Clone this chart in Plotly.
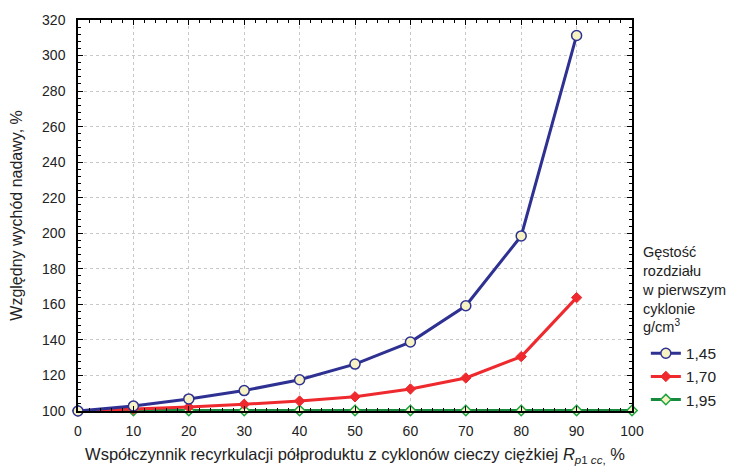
import plotly.graph_objects as go

x_main = [0, 10, 20, 30, 40, 50, 60, 70, 80, 90]
y_145 = [100, 102.8, 106.8, 111.5, 117.6, 126.4, 138.8, 159.2, 198.5, 311.3]
y_170 = [100, 101.1, 102.2, 103.8, 105.6, 108.0, 112.4, 118.6, 130.6, 163.8]
x_195 = [0, 10, 20, 30, 40, 50, 60, 70, 80, 90, 100]
y_195 = [100.3, 100.3, 100.3, 100.3, 100.3, 100.3, 100.3, 100.3, 100.3, 100.3, 100.3]

names = ["1,45", "1,70", "1,95"]
legend_title = "Gęstość<br>rozdziału<br>w pierwszym<br>cyklonie<br>g/cm<sup>3</sup>"
font = "Liberation Sans, Arial, sans-serif"

fig = go.Figure()
fig.add_trace(go.Scatter(
    x=x_195, y=y_195, name=names[2], mode="lines+markers", cliponaxis=False,
    line=dict(color="#178a3e", width=3), legendgroup="c",
    marker=dict(symbol="diamond", size=8, color="#f6f2c4", line=dict(color="#1aa33f", width=1.5)),
    legendrank=3))
fig.add_trace(go.Scatter(
    x=x_main, y=y_170, name=names[1], mode="lines+markers", cliponaxis=False,
    line=dict(color="#ee2a2e", width=3), legendgroup="b",
    marker=dict(symbol="diamond", size=8, color="#ee2a2e", line=dict(color="#ee2a2e", width=1)),
    legendrank=2))
fig.add_trace(go.Scatter(
    x=x_main, y=y_145, name=names[0], mode="lines+markers", cliponaxis=False,
    line=dict(color="#2e3192", width=3), legendgroup="a",
    marker=dict(symbol="circle", size=10, color="#f6f2c4", line=dict(color="#2e3192", width=1.5)),
    legendrank=1))

axis_common = dict(
    showline=True, linecolor="black", linewidth=1.5, mirror="ticks",
    ticks="inside", ticklen=5, tickcolor="black", tickwidth=1,
    showgrid=True, gridcolor="#c8c8c8", griddash="dot", gridwidth=1,
    zeroline=False, tickfont=dict(family=font, size=14, color="#222"),
    automargin=False,
)
fig.update_xaxes(range=[0, 100], dtick=10, tick0=0, ticklabelstandoff=6,
                 minor=dict(ticks="inside", ticklen=3, dtick=2, tickcolor="black", showgrid=False),
                 title=dict(text="Współczynnik recyrkulacji półproduktu z cyklonów cieczy ciężkiej <i>R</i><sub><i>p</i>1 <i>cc</i>,</sub> %",
                            font=dict(family=font, size=16.5, color="#222"), standoff=11),
                 **axis_common)
fig.update_yaxes(range=[100, 320], dtick=20, tick0=100, ticklabelstandoff=8,
                 minor=dict(ticks="inside", ticklen=3, dtick=4, tickcolor="black", showgrid=False),
                 title=dict(text="Względny wychód nadawy, %",
                            font=dict(family=font, size=16, color="#222"), standoff=16),
                 **axis_common)

fig.add_annotation(
    xref="paper", yref="paper", x=1.0144, y=0.312, xanchor="left", yanchor="middle",
    text=legend_title, showarrow=False, align="left",
    font=dict(family=font, size=14.5, color="#222"))

fig.update_layout(
    width=731, height=460,
    margin=dict(l=70, r=107, t=12, b=57),
    paper_bgcolor="white", plot_bgcolor="white",
    showlegend=True,
    legend=dict(
        x=1.025, xanchor="left", y=0.19, yanchor="top",
        font=dict(family=font, size=15.5, color="#222"),
        traceorder="normal", itemwidth=30, tracegroupgap=8,
        bgcolor="rgba(0,0,0,0)",
    ),
    font=dict(family=font),
)

fig.write_html("out.html")
